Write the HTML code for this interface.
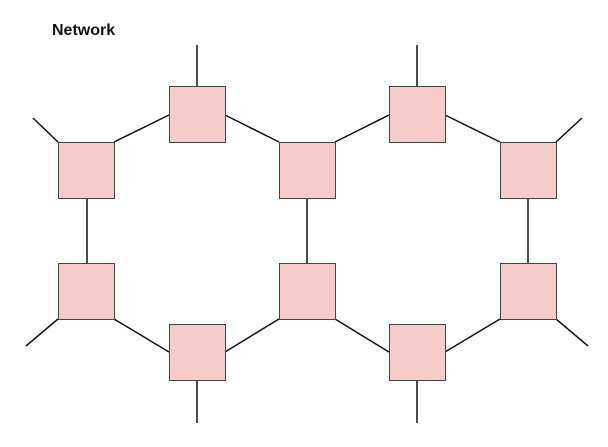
<!DOCTYPE html>
<html><head><style>body{margin:0;background:#fff;}</style></head><body>
<svg width="608" height="442" viewBox="0 0 608 442" xmlns="http://www.w3.org/2000/svg">
<rect width="608" height="442" fill="#fff"/>
<text x="52" y="35" font-family="Liberation Sans, sans-serif" font-weight="bold" font-size="16" fill="#111">Network</text>
<g stroke="#111" stroke-width="1.5" fill="none">
<line x1="197" y1="45" x2="197" y2="86"/>
<line x1="33" y1="118" x2="58" y2="142"/>
<line x1="114" y1="142" x2="169" y2="115"/>
<line x1="225" y1="115" x2="279" y2="142"/>
<line x1="87" y1="198" x2="87" y2="263"/>
<line x1="307" y1="198" x2="307" y2="263"/>
<line x1="58" y1="319" x2="26" y2="346"/>
<line x1="114" y1="319" x2="169" y2="352"/>
<line x1="225" y1="352" x2="279" y2="319"/>
<line x1="197" y1="380" x2="197" y2="423"/>
<line x1="417" y1="45" x2="417" y2="86"/>
<line x1="335" y1="142" x2="389" y2="115"/>
<line x1="445" y1="115" x2="500" y2="142"/>
<line x1="556" y1="142" x2="582" y2="118"/>
<line x1="528" y1="198" x2="528" y2="263"/>
<line x1="335" y1="319" x2="389" y2="352"/>
<line x1="445" y1="352" x2="500" y2="319"/>
<line x1="556" y1="319" x2="588" y2="346"/>
<line x1="417" y1="380" x2="417" y2="423"/>
</g>
<g fill="#f6cccb" stroke="#444" stroke-width="1">
<rect x="169.5" y="86.5" width="56" height="56"/>
<rect x="58.5" y="142.5" width="56" height="56"/>
<rect x="279.5" y="142.5" width="56" height="56"/>
<rect x="58.5" y="263.5" width="56" height="56"/>
<rect x="279.5" y="263.5" width="56" height="56"/>
<rect x="169.5" y="324.5" width="56" height="56"/>
<rect x="389.5" y="86.5" width="56" height="56"/>
<rect x="500.5" y="142.5" width="56" height="56"/>
<rect x="500.5" y="263.5" width="56" height="56"/>
<rect x="389.5" y="324.5" width="56" height="56"/>
</g>
</svg>
</body></html>
